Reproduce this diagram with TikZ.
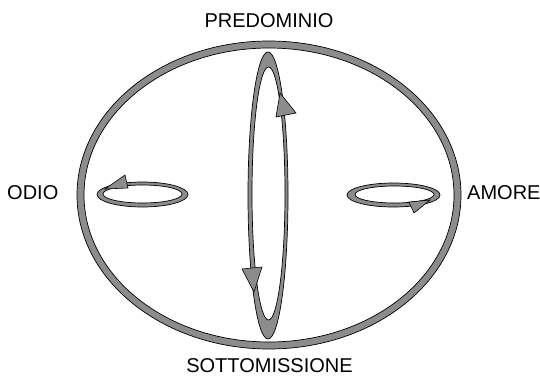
\documentclass[tikz,border=0pt]{standalone}
\usepackage{fontspec}
\setmainfont{Liberation Sans}
\usepackage{tikz}
\usetikzlibrary{positioning}
\definecolor{loopgrey}{HTML}{8C8C8C}
\tikzset{
  ring/.style={fill=loopgrey,draw=black,line width=0.7pt,even odd rule},
  tip/.style={fill=loopgrey,draw=black,line width=0.6pt,line join=miter},
  poslab/.style={font=\fontsize{20}{24}\selectfont,inner sep=0pt}
}

\begin{document}
\begin{tikzpicture}[x=1pt,y=-1pt]
  \useasboundingbox (0,0) rectangle (540,377);
  % outer ring
  \path[ring] (269,195) ellipse (192pt and 154pt) (269,195) ellipse (185pt and 147pt);
  % vertical loop
  \path[ring] (268,195.5) ellipse (20pt and 143.5pt) (268.5,193.5) ellipse (16.5pt and 126.5pt);
  \draw[tip] (280,93) -- (296,113) -- (276,117) -- cycle;
  \draw[tip] (254,292) -- (242,269) -- (262,267) -- cycle;
  % small loops
  \path[ring] (142.5,194.5) ellipse (45.5pt and 12.5pt) (142.5,194) ellipse (39.5pt and 9pt);
  \draw[tip] (105,189) -- (125,175) -- (128,188) -- cycle;
  \path[ring] (393.5,195) ellipse (46.5pt and 12pt) (394.5,194.5) ellipse (39.5pt and 8.5pt);
  \draw[tip] (430,200) -- (414,213) -- (409,202) -- cycle;
  % labels
  \node[poslab,anchor=base] (predominio) at (269,27.5) {PREDOMINIO};
  \node[poslab,anchor=base] (sottomissione) at (269.5,372.5) {SOTTOMISSIONE};
  \node[poslab,anchor=base west] (odio) at (7,199) {ODIO};
  \node[poslab,anchor=base west] (amore) at (467,199) {AMORE};
\end{tikzpicture}
\end{document}
